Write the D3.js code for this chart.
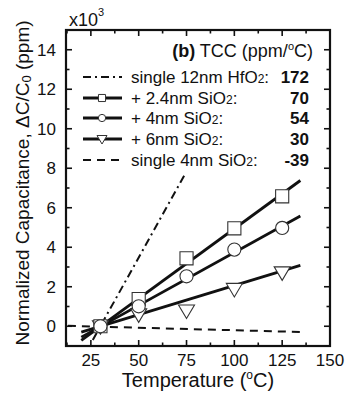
<!DOCTYPE html>
<html><head><meta charset="utf-8">
<script src="https://cdn.jsdelivr.net/npm/d3@7"></script>
<style>body{margin:0;background:#fff}svg{display:block;font-family:"Liberation Sans",Arial,sans-serif}</style>
</head><body><svg id="c" width="347" height="397"></svg>
<script>
const temps = [30, 50, 75, 100, 125];
const sq24 = [0, 1.38, 3.44, 4.96, 6.58];
const ci4 = [0, 1.01, 2.53, 3.88, 4.98];
const tr6 = [0, 0.6, 0.8, 1.89, 2.73];
const fit24 = [[20, -0.72], [134.5, 7.38]];
const fit4 = [[20, -0.55], [134.5, 5.58]];
const fit6 = [[20, -0.3], [134.5, 3.08]];
const fitHf = [[26, -0.7], [74.2, 7.7]];
const fitSi = [[13, 0.02], [134.5, -0.29]];
const legendLabels = ["single 12nm HfO", "+ 2.4nm SiO", "+ 4nm SiO", "+ 6nm SiO", "single 4nm SiO"];
const legendValues = ["172", "70", "54", "30", "-39"];
const xTicks = [25, 50, 75, 100, 125, 150];
const yTicks = [0, 2, 4, 6, 8, 10, 12, 14];

const svg = d3.select("#c");
const L = 66, R = 330, T = 30, B = 346;
const x = d3.scaleLinear().domain([12, 150]).range([L, R]);
const y = d3.scaleLinear().domain([-1, 15]).range([B, T]);
const col = "#111";

// ticks (inward)
const xMinor = d3.range(12.5, 150, 25);
const yMinor = d3.range(1, 15, 2);
const g = svg.append("g").attr("stroke", col).attr("stroke-width", 1.6);
xTicks.forEach(v => {
  g.append("line").attr("x1", x(v)).attr("x2", x(v)).attr("y1", B).attr("y2", B - 6);
  g.append("line").attr("x1", x(v)).attr("x2", x(v)).attr("y1", T).attr("y2", T + 6);
});
xMinor.forEach(v => {
  g.append("line").attr("x1", x(v)).attr("x2", x(v)).attr("y1", B).attr("y2", B - 3.5);
  g.append("line").attr("x1", x(v)).attr("x2", x(v)).attr("y1", T).attr("y2", T + 3.5);
});
yTicks.forEach(v => {
  g.append("line").attr("x1", L).attr("x2", L + 6).attr("y1", y(v)).attr("y2", y(v));
  g.append("line").attr("x1", R).attr("x2", R - 6).attr("y1", y(v)).attr("y2", y(v));
});
yMinor.forEach(v => {
  g.append("line").attr("x1", L).attr("x2", L + 3.5).attr("y1", y(v)).attr("y2", y(v));
  g.append("line").attr("x1", R).attr("x2", R - 3.5).attr("y1", y(v)).attr("y2", y(v));
});
svg.append("rect").attr("x", L).attr("y", T).attr("width", R - L).attr("height", B - T)
  .attr("fill", "none").attr("stroke", col).attr("stroke-width", 2.2);

// tick labels
svg.append("g").selectAll("text").data(xTicks).join("text")
  .attr("x", d => x(d)).attr("y", B + 20).attr("text-anchor", "middle")
  .attr("font-size", 17).attr("fill", col).text(d => d);
svg.append("g").selectAll("text").data(yTicks).join("text")
  .attr("x", L - 10).attr("y", d => y(d) + 6).attr("text-anchor", "end")
  .attr("font-size", 17).attr("fill", col).text(d => d);

// multiplier
const mt = svg.append("text").attr("x", 69).attr("y", 26).attr("font-size", 18).attr("fill", col);
mt.append("tspan").text("x10");
mt.append("tspan").attr("font-size", 11).attr("dy", -10).text("3");

// axis titles
const xt = svg.append("text").attr("x", 198).attr("y", 387).attr("text-anchor", "middle").attr("font-size", 20).attr("fill", col);
xt.append("tspan").text("Temperature (");
xt.append("tspan").attr("font-size", 12).attr("dy", -8).text("o");
xt.append("tspan").attr("dy", 8).text("C)");
const yt = svg.append("text").attr("transform", "translate(29,183) rotate(-90)").attr("text-anchor", "middle").attr("font-size", 19).attr("fill", col);
yt.append("tspan").text("Normalized Capacitance, ΔC/C");
yt.append("tspan").attr("font-size", 13).attr("dy", 2).text("0");
yt.append("tspan").attr("dy", -2).text(" (ppm)");

// lines
const line = d3.line().x(d => x(d[0])).y(d => y(d[1]));
svg.append("clipPath").attr("id", "cp").append("rect").attr("x", L).attr("y", T).attr("width", R - L).attr("height", B - T);
const plot = svg.append("g").attr("clip-path", "url(#cp)");
const styles = [
  {d: fitHf, w: 2, dash: "8,4,2,4"},
  {d: fit24, w: 2.8, dash: null},
  {d: fit4, w: 2.8, dash: null},
  {d: fit6, w: 2.8, dash: null},
  {d: fitSi, w: 2, dash: "8,6"}
];
styles.forEach(s => {
  plot.append("path").attr("d", line(s.d)).attr("fill", "none").attr("stroke", col)
    .attr("stroke-width", s.w).attr("stroke-dasharray", s.dash);
});

// markers
const symSq = d3.symbol(d3.symbolSquare, 172);
const symCi = d3.symbol(d3.symbolCircle, 135);
const triDown = "M-8,-5.5L8,-5.5L0,8Z";
function marks(vals, kind) {
  plot.append("g").selectAll("path").data(temps.map((t, i) => [t, vals[i]])).join("path")
    .attr("transform", d => `translate(${x(d[0])},${y(d[1])})`)
    .attr("d", kind === "sq" ? symSq() : kind === "ci" ? symCi() : triDown)
    .attr("fill", "#fff").attr("stroke", "#333").attr("stroke-width", 1.1);
}
marks(tr6, "tr");
marks(sq24, "sq");
marks(ci4, "ci");

// legend
const lg = svg.append("g").attr("fill", col);
const ttl = lg.append("text").attr("x", 313).attr("y", 57).attr("text-anchor", "end").attr("font-size", 18);
ttl.append("tspan").attr("font-weight", "bold").text("(b)");
ttl.append("tspan").text(" TCC (ppm/");
ttl.append("tspan").attr("font-size", 11).attr("dy", -7).text("o");
ttl.append("tspan").attr("dy", 7).text("C)");
const rowY = [77, 98, 118, 139, 160];
const kinds = ["hf", "sq", "ci", "tr", "si"];
legendLabels.forEach((lab, i) => {
  const yy = rowY[i];
  const s = styles[i];
  lg.append("line").attr("x1", 83).attr("x2", 122).attr("y1", yy).attr("y2", yy)
    .attr("stroke", col).attr("stroke-width", s.w).attr("stroke-dasharray", s.dash);
  if (kinds[i] === "sq" || kinds[i] === "ci" || kinds[i] === "tr") {
    lg.append("path").attr("transform", `translate(102,${yy})`)
      .attr("d", kinds[i] === "sq" ? d3.symbol(d3.symbolSquare, 50)() : kinds[i] === "ci" ? d3.symbol(d3.symbolCircle, 42)() : "M-5,-3.5L5,-3.5L0,5Z")
      .attr("fill", "#fff").attr("stroke", "#333").attr("stroke-width", 1);
  }
  const t = lg.append("text").attr("x", 131).attr("y", yy + 6).attr("font-size", 17);
  t.append("tspan").text(lab);
  t.append("tspan").attr("font-size", 12).text("2");
  t.append("tspan").attr("font-size", 17).text(":");
  lg.append("text").attr("x", 309).attr("y", yy + 6).attr("text-anchor", "end")
    .attr("font-size", 17).attr("font-weight", "bold").text(legendValues[i]);
});
</script></body></html>
